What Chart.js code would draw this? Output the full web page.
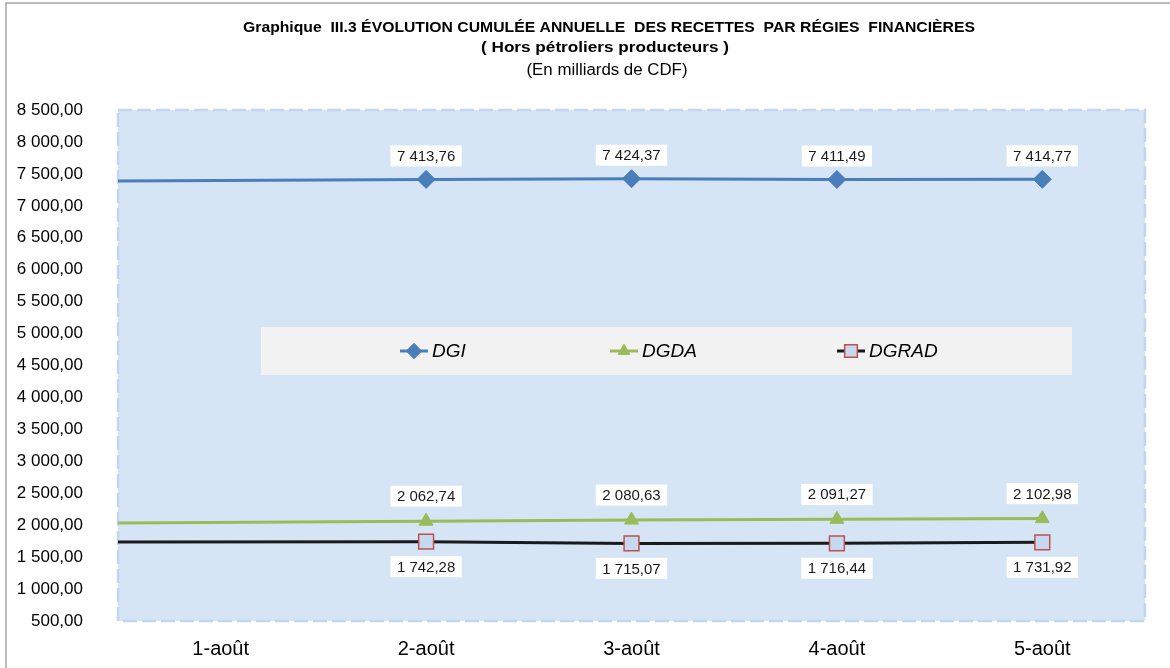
<!DOCTYPE html>
<html>
<head>
<meta charset="utf-8">
<script src="https://cdn.jsdelivr.net/npm/chart.js@4"></script>
<style>
  html, body { margin: 0; padding: 0; background: #ffffff; }
  #c { display: block; }
</style>
</head>
<body>
<canvas id="c" width="1170" height="668"></canvas>
<script>
// ---------- data ----------
const categories = ['1-août', '2-août', '3-août', '4-août', '5-août'];
const dgi   = [7387, 7413.76, 7424.37, 7411.49, 7414.77];
const dgda  = [2035, 2062.74, 2080.63, 2091.27, 2102.98];
const dgrad = [1738, 1742.28, 1715.07, 1716.44, 1731.92];
const seriesNames = ['DGI', 'DGDA', 'DGRAD'];
const yMin = 500, yMax = 8500, yStep = 500;
const titleLines = [
  'Graphique  III.3 ÉVOLUTION CUMULÉE ANNUELLE  DES RECETTES  PAR RÉGIES  FINANCIÈRES',
  '( Hors pétroliers producteurs )',
  '(En milliards de CDF)'
];

// ---------- helpers ----------
function frNum(v) {
  const s = Math.abs(v).toFixed(2).split('.');
  const int = s[0].replace(/\B(?=(\d{3})+(?!\d))/g, ' ');
  return (v < 0 ? '-' : '') + int + ',' + s[1];
}
const xMin = 0.5, xMax = categories.length + 0.5;
// the first category's segment enters from the left edge of the plot
function toPoints(arr) {
  return arr.map((v, i) => ({ x: i === 0 ? xMin : i + 1, y: v }));
}
const FONT = '"Liberation Sans", Arial, sans-serif';

const colors = {
  DGI:   { line: '#4a7ebb', fill: '#4a7ebb', border: '#4a7ebb', style: 'rectRot', r: 9 },
  DGDA:  { line: '#9bbb59', fill: '#9bbb59', border: '#9bbb59', style: 'triangle', r: 8 },
  DGRAD: { line: '#1a1a1a', fill: '#c6d9f1', border: '#c0504d', style: 'rect', r: 10.5 }
};
const labelOffset = { DGI: -23.5, DGDA: -25, DGRAD: 25 };

function mkDataset(name, arr) {
  const c = colors[name];
  return {
    label: name,
    data: toPoints(arr),
    borderColor: c.line,
    borderWidth: 3,
    tension: 0,
    pointStyle: c.style,
    pointRadius: arr.map((v, i) => i === 0 ? 0 : c.r),
    pointHoverRadius: arr.map((v, i) => i === 0 ? 0 : c.r),
    pointBackgroundColor: c.fill,
    pointBorderColor: c.border,
    pointBorderWidth: name === 'DGRAD' ? 1.5 : 1
  };
}

// ---------- plugins ----------
const plotBg = {
  id: 'plotBg',
  beforeDraw(chart) {
    const { ctx, chartArea: a } = chart;
    ctx.save();
    ctx.strokeStyle = '#a6a6a6';
    ctx.lineWidth = 1.5;
    ctx.beginPath();
    ctx.moveTo(6, 700); ctx.lineTo(6, 3); ctx.lineTo(1200, 3);
    ctx.stroke();
    ctx.fillStyle = '#d6e5f6';
    ctx.fillRect(a.left, a.top, a.right - a.left, a.bottom - a.top);
    ctx.setLineDash([14, 5]);
    ctx.strokeStyle = '#c2d6f0';
    ctx.lineWidth = 2.5;
    ctx.strokeRect(a.left, a.top, a.right - a.left, a.bottom - a.top);
    ctx.restore();
  }
};

const titles = {
  id: 'titles',
  afterDraw(chart) {
    const ctx = chart.ctx;
    const specs = [
      { t: titleLines[0], y: 28, font: 'bold 15.5px ' + FONT, w: 732, cx: 609 },
      { t: titleLines[1], y: 48, font: 'bold 15.5px ' + FONT, w: 248, cx: 605 },
      { t: titleLines[2], y: 71, font: '16px ' + FONT, w: 161, cx: 607 }
    ];
    ctx.save();
    ctx.fillStyle = '#000000';
    ctx.textAlign = 'center';
    ctx.textBaseline = 'middle';
    specs.forEach(s => {
      ctx.font = s.font;
      const mw = ctx.measureText(s.t).width;
      ctx.save();
      ctx.translate(s.cx, s.y);
      ctx.scale(s.w / mw, 1);
      ctx.fillText(s.t, 0, 0);
      ctx.restore();
    });
    ctx.restore();
  }
};

const dataLabels = {
  id: 'dataLabels',
  afterDatasetsDraw(chart) {
    const ctx = chart.ctx;
    ctx.save();
    ctx.font = '15px ' + FONT;
    ctx.textAlign = 'center';
    ctx.textBaseline = 'middle';
    chart.data.datasets.forEach((ds, di) => {
      const meta = chart.getDatasetMeta(di);
      meta.data.forEach((pt, i) => {
        if (i === 0) return;
        const txt = frNum(ds.data[i].y);
        const w = ctx.measureText(txt).width + 13;
        const h = 21;
        const cy = pt.y + labelOffset[ds.label];
        ctx.fillStyle = '#ffffff';
        ctx.fillRect(pt.x - w / 2, cy - h / 2, w, h);
        ctx.fillStyle = '#1a1a1a';
        ctx.fillText(txt, pt.x, cy + 1);
      });
    });
    ctx.restore();
  }
};

const legendBox = {
  id: 'legendBox',
  afterDatasetsDraw(chart) {
    const ctx = chart.ctx;
    ctx.save();
    ctx.fillStyle = '#f2f2f2';
    ctx.fillRect(261, 327, 811, 48);
    const cy = 351;
    const markerX = [414, 624, 851];
    chart.data.datasets.forEach((ds, di) => {
      const c = colors[ds.label];
      const mx = markerX[di];
      ctx.strokeStyle = c.line;
      ctx.lineWidth = 3;
      ctx.beginPath();
      ctx.moveTo(mx - 14, cy); ctx.lineTo(mx + 14, cy);
      ctx.stroke();
      ctx.fillStyle = c.fill;
      ctx.strokeStyle = c.border;
      ctx.lineWidth = ds.pointBorderWidth;
      Chart.helpers.drawPoint(ctx, { pointStyle: c.style, radius: c.r * 0.85, rotation: 0, borderWidth: ds.pointBorderWidth }, mx, cy);
      ctx.fillStyle = '#000000';
      ctx.font = 'italic 19px ' + FONT;
      ctx.textAlign = 'left';
      ctx.textBaseline = 'middle';
      ctx.fillText(ds.label, mx + 18, cy + 1);
    });
    ctx.restore();
  }
};

// ---------- chart ----------
new Chart(document.getElementById('c'), {
  type: 'line',
  data: {
    datasets: [
      mkDataset(seriesNames[0], dgi),
      mkDataset(seriesNames[1], dgda),
      mkDataset(seriesNames[2], dgrad)
    ]
  },
  options: {
    responsive: false,
    devicePixelRatio: 1,
    animation: false,
    layout: { padding: { top: 110, right: 25, left: 0, bottom: 0 } },
    plugins: {
      legend: { display: false },
      title: { display: false },
      tooltip: { enabled: false }
    },
    scales: {
      x: {
        type: 'linear',
        min: xMin,
        max: xMax,
        afterBuildTicks(scale) {
          scale.ticks = categories.map((c, i) => ({ value: i + 1 }));
        },
        afterFit(scale) { scale.height = 47; },
        grid: { display: false },
        border: { display: false },
        ticks: {
          padding: 8,
          color: '#000000',
          font: { family: FONT, size: 20 },
          autoSkip: false,
          maxRotation: 0,
          callback: (v) => categories[Math.round(v) - 1]
        }
      },
      y: {
        min: yMin,
        max: yMax,
        afterFit(scale) { scale.width = 118; },
        grid: { display: false },
        border: { display: false },
        ticks: {
          stepSize: yStep,
          padding: 27,
          color: '#000000',
          font: { family: FONT, size: 17 },
          callback: (v) => frNum(v)
        }
      }
    }
  },
  plugins: [plotBg, dataLabels, legendBox, titles]
});
</script>
</body>
</html>
